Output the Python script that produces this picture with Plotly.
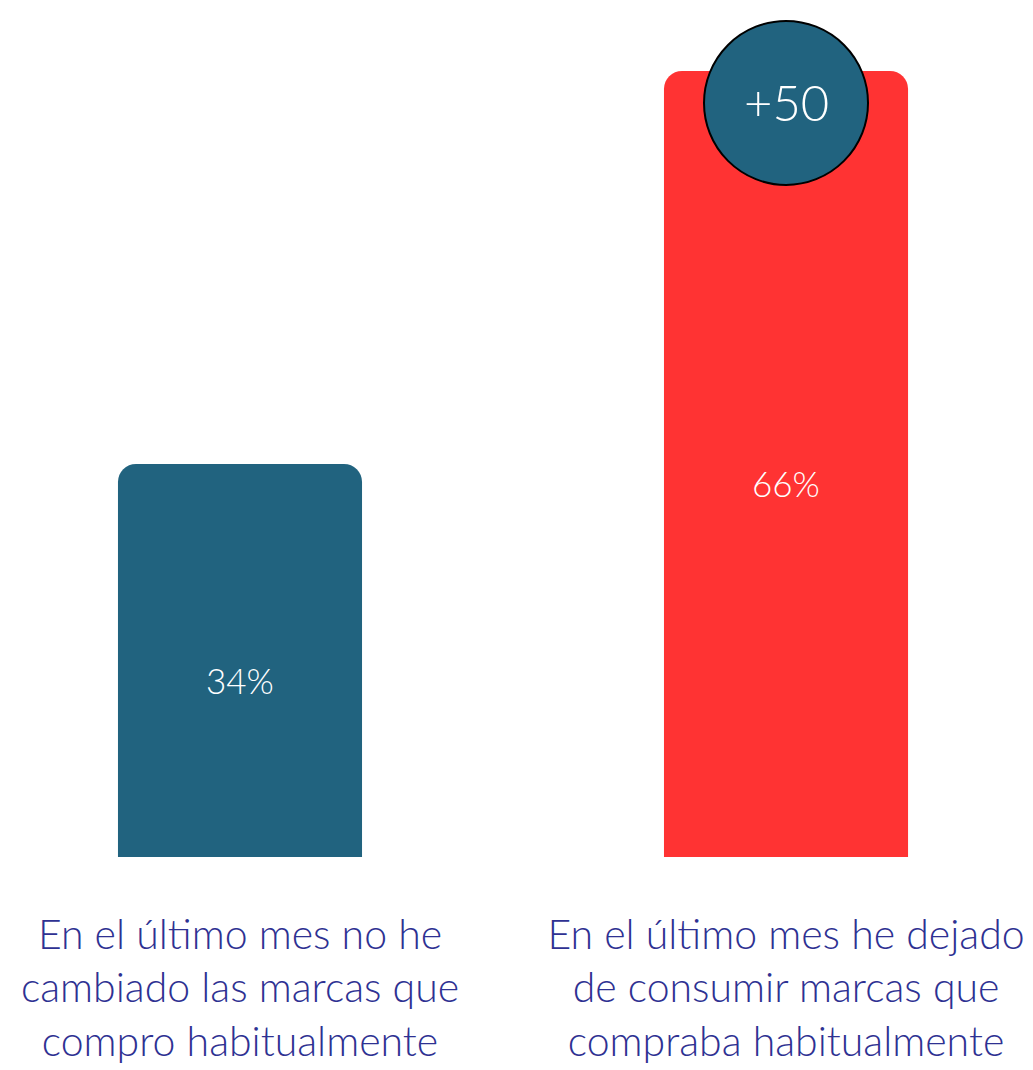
import plotly.graph_objects as go

categories = ["En el último mes no he<br>cambiado las marcas que<br>compro habitualmente",
              "En el último mes he dejado<br>de consumir marcas que<br>compraba habitualmente"]
values = [34, 66]
value_labels = ["34%", "66%"]
bar_colors = ["#21637f", "#ff3333"]
badge_text = "+50"

FONT = "Lato"

fig = go.Figure()
fig.add_trace(go.Bar(
    x=[0, 1], y=values, width=0.447,
    marker=dict(color=bar_colors, line=dict(width=0)),
    hoverinfo="skip", showlegend=False,
))

# badge circle over the second bar
badge_y = values[1] - 2.6
fig.add_trace(go.Scatter(
    x=[1], y=[badge_y],
    mode="markers",
    marker=dict(size=164, color="#21637f", line=dict(color="#000000", width=2)),
    hoverinfo="skip", showlegend=False, cliponaxis=False,
))
fig.add_annotation(x=1, y=badge_y, text=badge_text, showarrow=False, yshift=1,
                   font=dict(family=FONT, size=49, color="white", weight=300))

for i, (v, t) in enumerate(zip(values, value_labels)):
    fig.add_annotation(x=i, y=v / 2, text=t, showarrow=False, yshift=-7,
                       font=dict(family=FONT, size=35, color="white", weight=300))

fig.update_layout(
    width=1033, height=1070,
    margin=dict(l=0, r=0, t=0, b=221),
    paper_bgcolor="white", plot_bgcolor="white",
    barcornerradius=18,
    xaxis=dict(range=[-0.4249, 1.467], tickmode="array", tickvals=[0, 1],
               ticktext=categories, showgrid=False, zeroline=False, showline=False,
               ticks="", ticklabelstandoff=50,
               tickfont=dict(family=FONT, size=41, color="#2e3192", weight=300)),
    yaxis=dict(range=[2, 71.13], visible=False),
)

fig.write_html("out.html")
